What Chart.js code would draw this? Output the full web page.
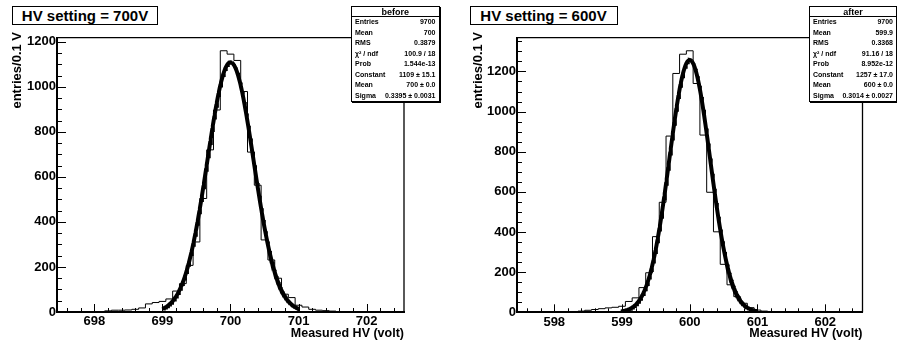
<!DOCTYPE html>
<html>
<head>
<meta charset="utf-8">
<script src="https://cdn.jsdelivr.net/npm/chart.js@4.4.1/dist/chart.umd.min.js"></script>
<style>
  html, body { margin: 0; padding: 0; background: #fff; }
  #wrap { position: relative; width: 897px; height: 345px; overflow: hidden;
          font-family: "Liberation Sans", Arial, sans-serif; font-weight: bold; }
  canvas { position: absolute; top: 0; }
  .title { position: absolute; box-sizing: border-box; border: 1px solid #000; background: #fff;
           font-size: 15px; line-height: 17px; text-align: center; }
  .stats { position: absolute; box-sizing: border-box; border: 1px solid #000; background: #fff;
           box-shadow: 1px 1px 0 #000; font-size: 7px; }
  .stats .head { height: 9.5px; line-height: 10px; font-size: 9px; text-align: center; border-bottom: 1px solid #000; }
  .stats .row { display: flex; justify-content: space-between; height: 10.5px; line-height: 10.5px; padding: 0 3px 0 3px; }
</style>
</head>
<body>
<div id="wrap">
  <canvas id="before" width="448" height="345" style="left:0"></canvas>
  <canvas id="after" width="449" height="345" style="left:448px"></canvas>
  <div class="title" style="left:12px; top:5.5px; width:146px; height:19px">HV setting = 700V</div>
  <div class="title" style="left:469.5px; top:5.5px; width:148px; height:19.5px">HV setting = 600V</div>
  <div class="stats" id="statsBefore" style="left:351px; top:5.5px; width:88.5px; height:96.5px"></div>
  <div class="stats" id="statsAfter" style="left:809px; top:5.5px; width:88px; height:96.5px"></div>
</div>
<script>
// 0.1 V bins, 51 per histogram
const binWidth = 0.1;
const beforeLow = 697.45;
const afterLow = 597.45;

const beforeCounts = [0, 0, 0, 0, 0, 0, 1, 5, 8, 8,
  9, 12, 18, 36, 42, 47, 58, 93, 126, 207,
  311, 504, 720, 897, 1160, 1145, 1117, 979, 710, 563,
  320, 231, 150, 79, 64, 30, 22, 12, 8, 6,
  4, 2, 1, 0, 0, 0, 0, 0, 0, 0,
  0];
const afterCounts = [0, 0, 0, 0, 0, 0, 1, 2, 4, 6,
  10, 14, 18, 22, 25, 30, 54, 72, 123, 197,
  377, 548, 878, 1190, 1286, 1303, 1140, 883, 598, 401,
  239, 137, 78, 45, 23, 11, 6, 4, 3, 2,
  1, 0, 0, 0, 0, 0, 0, 0, 0, 0,
  0];

const beforeTicks = [698, 699, 700, 701, 702];
const afterTicks = [598, 599, 600, 601, 602];
const countTicks = [0, 200, 400, 600, 800, 1000, 1200];

// gaus fit: constant, mean, sigma (and errors)
const beforeFit = [1109, 700, 0.3395];
const beforeFitErr = [15.1, 0.0, 0.0031];
const afterFit = [1257, 600, 0.3014];
const afterFitErr = [17.0, 0.0, 0.0027];
const beforeFitRange = [699, 701];
const afterFitRange = [599, 601];

const statNames = ['Entries', 'Mean', 'RMS', 'χ² / ndf', 'Prob', 'Constant', 'Mean', 'Sigma'];
const beforeStats = ['9700', '700', '0.3879', '100.9 / 18', '1.544e-13'];
const afterStats = ['9700', '599.9', '0.3368', '91.16 / 18', '8.952e-12'];

const xTitle = 'Measured HV (volt)';
const yTitle = 'entries/0.1 V';
const FONT = '"Liberation Sans", Arial, sans-serif';

function histPoints(low, counts) {
  const pts = counts.map((c, i) => ({ x: low + i * binWidth, y: c }));
  pts.push({ x: low + counts.length * binWidth, y: counts[counts.length - 1] });
  return pts;
}

function gausPoints(par, range) {
  const pts = [];
  const n = 200;
  for (let i = 0; i <= n; i++) {
    const x = range[0] + (range[1] - range[0]) * i / n;
    const d = (x - par[1]) / par[2];
    pts.push({ x, y: par[0] * Math.exp(-0.5 * d * d) });
  }
  return pts;
}

function fillStats(id, title, stats, fit, err) {
  const box = document.getElementById(id);
  const fmt = [1, 1, 4];
  const values = stats.concat(fit.map((v, i) => `${v} ± ${err[i].toFixed(fmt[i])}`));
  let html = `<div class="head">${title}</div>`;
  statNames.forEach((n, i) => {
    html += `<div class="row"><span>${n}</span><span>${values[i]}</span></div>`;
  });
  box.innerHTML = html;
}

// ROOT style frame: inward ticks, top/right frame lines, axis titles
const rootAxes = {
  id: 'rootAxes',
  afterDatasetsDraw(chart, args, o) {
    const { ctx, chartArea: a, scales: { x, y } } = chart;
    ctx.save();
    ctx.strokeStyle = '#000';
    ctx.lineWidth = 1.3;
    ctx.beginPath();
    ctx.moveTo(a.left, a.top);
    ctx.lineTo(a.right, a.top);
    ctx.lineTo(a.right, a.bottom);
    ctx.stroke();

    ctx.lineWidth = 1;
    ctx.beginPath();
    const xt = o.xTicks, xs = (xt[1] - xt[0]) / 5;
    const x0 = xt[0] - Math.floor((xt[0] - x.min) / xs + 1e-9) * xs;
    for (let k = 0; ; k++) {
      const v = +(x0 + k * xs).toFixed(6);
      if (v > x.max) break;
      const major = xt.some(t => Math.abs(t - v) < 1e-6);
      const px = Math.round(x.getPixelForValue(v)) + 0.5;
      ctx.moveTo(px, a.bottom);
      ctx.lineTo(px, a.bottom - (major ? 8 : 4));
    }
    const yt = o.yTicks, ys = (yt[1] - yt[0]) / 4;
    for (let v = 0; v <= y.max; v += ys) {
      const major = v % (yt[1] - yt[0]) === 0;
      const py = Math.round(y.getPixelForValue(v)) + 0.5;
      ctx.moveTo(a.left, py);
      ctx.lineTo(a.left + (major ? 9 : 5), py);
    }
    ctx.stroke();

    ctx.fillStyle = '#000';
    ctx.font = `bold 12.5px ${FONT}`;
    ctx.textAlign = 'right';
    ctx.textBaseline = 'alphabetic';
    ctx.fillText(xTitle, a.right, 336.5);

    ctx.save();
    ctx.translate(o.yTitleX, 32);
    ctx.rotate(-Math.PI / 2);
    ctx.font = `bold 13px ${FONT}`;
    ctx.textAlign = 'right';
    ctx.textBaseline = 'middle';
    ctx.fillText(yTitle, 0, 0);
    ctx.restore();
    ctx.restore();
  }
};

function makePanel(id, low, counts, fit, fitRange, xTicks, frame) {
  const canvas = document.getElementById(id);
  const W = canvas.width, H = canvas.height;
  const tickFont = { family: FONT, weight: 'bold', size: 13 };
  return new Chart(canvas, {
    type: 'line',
    data: {
      datasets: [
        {
          data: histPoints(low, counts),
          stepped: 'before',
          borderColor: '#000',
          borderWidth: 1,
          pointRadius: 0,
          fill: false
        },
        {
          data: gausPoints(fit, fitRange),
          borderColor: '#000',
          borderWidth: 4,
          pointRadius: 0,
          tension: 0,
          fill: false
        }
      ]
    },
    options: {
      responsive: false,
      animation: false,
      devicePixelRatio: 1,
      parsing: false,
      normalized: true,
      layout: { padding: { left: 0, top: frame.top, right: W - frame.right, bottom: 0 } },
      plugins: {
        legend: { display: false },
        tooltip: { enabled: false },
        rootAxes: { xTicks, yTicks: countTicks, yTitleX: frame.yTitleX }
      },
      scales: {
        x: {
          type: 'linear',
          min: low,
          max: low + counts.length * binWidth,
          afterBuildTicks: s => { s.ticks = xTicks.map(v => ({ value: v })); },
          afterFit: s => { s.height = H - frame.bottom; },
          grid: { display: false, drawTicks: false },
          border: { display: true, color: '#000', width: 2 },
          ticks: { font: tickFont, color: '#000', padding: 2, maxRotation: 0, autoSkip: false,
                   callback: v => String(v) }
        },
        y: {
          type: 'linear',
          min: 0,
          max: Math.max(...counts) * 1.05,
          afterBuildTicks: s => { s.ticks = countTicks.map(v => ({ value: v })); },
          afterFit: s => { s.width = frame.left; },
          grid: { display: false, drawTicks: false },
          border: { display: true, color: '#000', width: 2 },
          ticks: { font: tickFont, color: '#000', padding: 1, callback: v => String(v) }
        }
      }
    },
    plugins: [rootAxes]
  });
}

fillStats('statsBefore', 'before', beforeStats, beforeFit, beforeFitErr);
fillStats('statsAfter', 'after', afterStats, afterFit, afterFitErr);

makePanel('before', beforeLow, beforeCounts, beforeFit, beforeFitRange, beforeTicks,
  { left: 57, right: 404, top: 37.7, bottom: 312, yTitleX: 17.5 });
makePanel('after', afterLow, afterCounts, afterFit, afterFitRange, afterTicks,
  { left: 69, right: 862.5 - 448, top: 37.7, bottom: 312.3, yTitleX: 478 - 448 });
</script>
</body>
</html>
